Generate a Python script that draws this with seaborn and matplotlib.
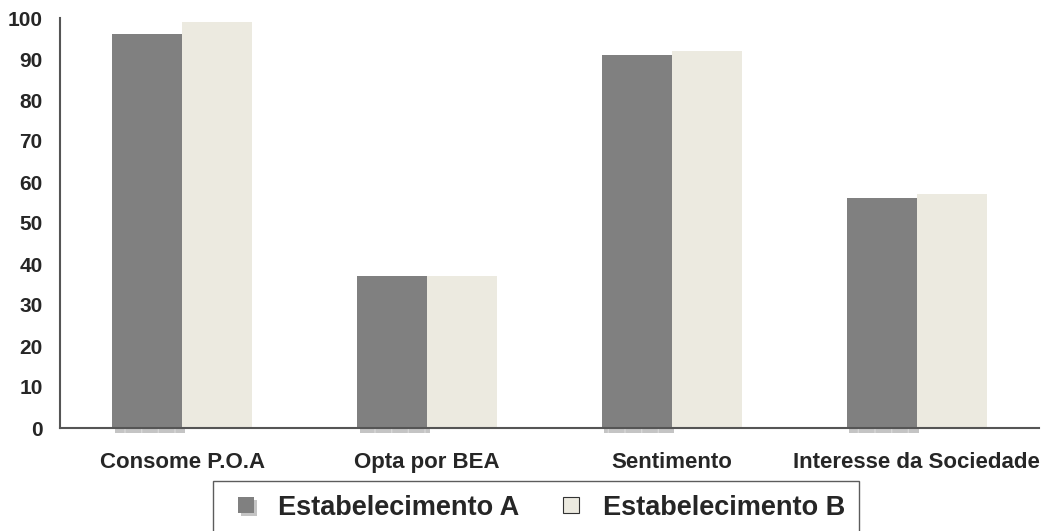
import numpy as np
import pandas as pd
import matplotlib
matplotlib.use("Agg")
import matplotlib.pyplot as plt
from matplotlib.patches import Rectangle
from matplotlib.legend_handler import HandlerBase
import seaborn as sns

# Data
categories = ["Consome P.O.A", "Opta por BEA", "Sentimento", "Interesse da Sociedade"]
estab_a = [96, 37, 91, 56]
estab_b = [99, 37, 92, 57]
series_names = ["Estabelecimento A", "Estabelecimento B"]
y_ticks = list(range(0, 101, 10))

color_a = "#808080"
color_b = "#ECEAE0"
shadow_color = "#C4C4C4"

df = pd.DataFrame({
    "categoria": categories * 2,
    "valor": estab_a + estab_b,
    "serie": [series_names[0]] * len(categories) + [series_names[1]] * len(categories),
})

sns.set_theme(style="white")
plt.rcParams["font.family"] = ["Liberation Sans", "DejaVu Sans"]
plt.rcParams["font.weight"] = "bold"

fig = plt.figure(figsize=(10.58, 5.31), dpi=100)
ax = fig.add_axes([60 / 1058, 1 - 428 / 531, (1039 - 60) / 1058, (428 - 18) / 531])

sns.barplot(data=df, x="categoria", y="valor", hue="serie", order=categories,
            hue_order=series_names, palette=[color_a, color_b], width=0.571,
            saturation=1, linewidth=0, legend=False, ax=ax)

# Soft drop shadow below the first series' bars
n = len(categories)
for p in ax.patches[:n]:
    sh = Rectangle((p.get_x() + 0.01, -1.3), p.get_width(), 1.3,
                   facecolor=shadow_color, edgecolor="#D6D6D6", hatch="|",
                   linewidth=0, clip_on=False, zorder=0.5)
    ax.add_patch(sh)

ax.set_xlim(-0.5, n - 0.5)
ax.set_ylim(0, 100)
ax.set_yticks(y_ticks)
ax.set_yticklabels([str(t) for t in y_ticks], fontsize=15, fontweight="bold")
ax.set_xticks(range(n))
ax.set_xticklabels(categories, fontsize=16, fontweight="bold")
ax.set_xticks(np.arange(-0.5, n, 1.0), minor=True)
ax.tick_params(axis="x", which="major", length=0, pad=17)
ax.tick_params(axis="x", which="minor", length=7, width=1.5, color="#555555", direction="out")
ax.tick_params(axis="y", which="major", length=6, width=1.5, color="#555555", direction="out", pad=6.5)
ax.set_xlabel("")
ax.set_ylabel("")

for side in ["top", "right"]:
    ax.spines[side].set_visible(False)
for side in ["left", "bottom"]:
    ax.spines[side].set_color("#555555")
    ax.spines[side].set_linewidth(1.5)


class ShadowBoxHandler(HandlerBase):
    """Square legend key, right-aligned in its box, with optional drop shadow."""

    def __init__(self, face, edge, shadow, size=11.5, offset=2.2):
        super().__init__()
        self.face, self.edge, self.shadow = face, edge, shadow
        self.size, self.offset = size, offset

    def create_artists(self, legend, orig_handle, xdescent, ydescent, width, height, fontsize, trans):
        s = self.size
        x0 = -xdescent + width - s
        y0 = -ydescent + (height - s) / 2
        arts = []
        if self.shadow:
            arts.append(Rectangle((x0 + self.offset, y0 - self.offset), s, s,
                                  facecolor=shadow_color, edgecolor="none", transform=trans))
        arts.append(Rectangle((x0, y0), s, s, facecolor=self.face,
                              edgecolor=self.edge, linewidth=0.8, transform=trans))
        return arts


h_a = Rectangle((0, 0), 1, 1)
h_b = Rectangle((0, 0), 1, 1)
leg = fig.legend([h_a, h_b], series_names, ncol=2, loc="upper left",
                 bbox_to_anchor=(213 / 1058, 1 - 481 / 531),
                 prop={"size": 19.5, "weight": "bold"},
                 handler_map={h_a: ShadowBoxHandler(color_a, "none", True),
                              h_b: ShadowBoxHandler(color_b, "#333333", False)},
                 frameon=True, fancybox=False, edgecolor="#333333",
                 handlelength=1.0, handleheight=0.7, handletextpad=0.9,
                 columnspacing=1.2, borderpad=0.5, borderaxespad=0)
leg.get_frame().set_linewidth(1.0)

fig.savefig("out.png", dpi=100)
